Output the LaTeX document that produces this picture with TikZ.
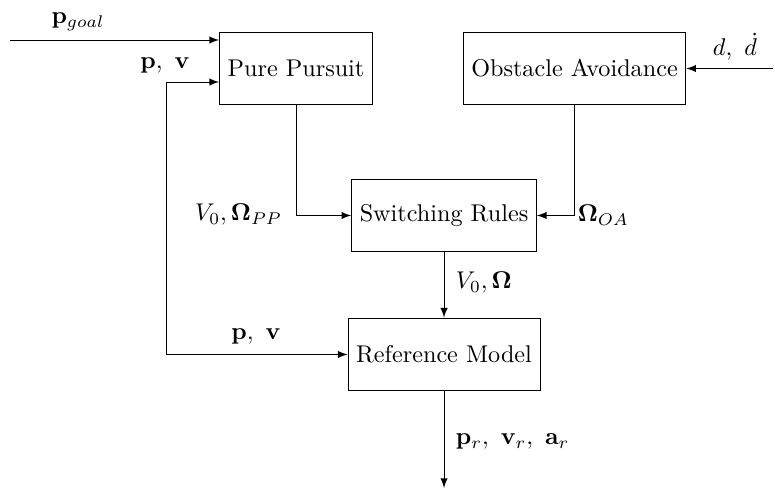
\documentclass[tikz,border=0pt]{standalone}
\usepackage{amssymb}
\usepackage{tikz}
\usetikzlibrary{arrows,positioning}

\begin{document}
\begin{tikzpicture}[>=latex]
		\tikzstyle{Block}	= [rectangle, draw, minimum height=30pt]
		\tikzstyle{Signal}	= [->]
		\tikzstyle{Label}	= [inner sep=1pt]

		\useasboundingbox (0, 0) rectangle (11.256, 7.131);

		\node (pp) at (4.299, 6.136) [Block] {Pure Pursuit};
		\node (oa) at (8.344, 6.136) [Block] {Obstacle Avoidance};
		\node (sr) at (6.449, 4.001) [Block] {Switching Rules};
		\node (rm) at (6.449, 1.983) [Block] {Reference Model};

		\coordinate (goal) at (0.145, 6.550);
		\coordinate (fb) at (2.411, 5.940);
		\coordinate (dist) at (11.22, 6.136);
		\coordinate (out) at (6.449, 0.044);

		\draw [Signal] (goal) -- (goal -| pp.west);
		\draw [Signal] (rm.west -| fb) |- (fb) -- (fb -| pp.west);
		\draw [Signal] (fb |- rm.west) -- (rm.west);
		\draw [Signal] (dist) -- (oa.east);
		\draw [Signal] (pp.south) |- (sr.west);
		\draw [Signal] (oa.south) |- (sr.east);
		\draw [Signal] (sr.south) -- (rm.north);
		\draw [Signal] (rm.south) -- (out);

		\node (lgoal) at (1.133, 6.812) [Label] {$\mathbf{p}_{goal}$};
		\node (lpv1) at (2.396, 6.173) [Label] {$\mathbf{p},\ \mathbf{v}$};
		\node (ld) at (10.675, 6.449) [Label] {$d,\ \dot{d}$};
		\node (lpp) at (4.139, 4.009) [Label, anchor=east] {$V_0,\mathbf{\Omega}_{PP}$};
		\node (loa) at (8.351, 4.009) [Label, anchor=west] {$\mathbf{\Omega}_{OA}$};
		\node (lsr) at (6.579, 3.021) [Label, anchor=west] {$V_0,\mathbf{\Omega}$};
		\node (lpv2) at (3.718, 2.237) [Label] {$\mathbf{p},\ \mathbf{v}$};
		\node (lrm) at (6.579, 0.712) [Label, anchor=west] {$\mathbf{p}_r,\ \mathbf{v}_r,\ \mathbf{a}_r$};
\end{tikzpicture}
\end{document}
